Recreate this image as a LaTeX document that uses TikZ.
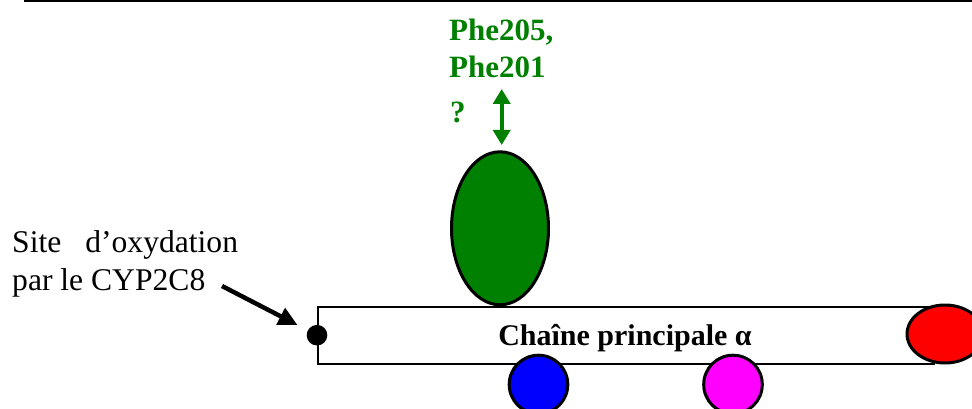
\documentclass[tikz,border=0pt]{standalone}
\usepackage{fontspec}
\setmainfont{Liberation Serif}
\usetikzlibrary{arrows.meta}
\definecolor{dgreen}{RGB}{0,128,0}
\definecolor{mblue}{RGB}{0,0,255}
\definecolor{mmag}{RGB}{255,0,255}
\definecolor{mred}{RGB}{255,0,0}
\begin{document}
\begin{tikzpicture}[x=1pt,y=-1pt,
  lbl/.style={inner sep=0pt,anchor=base west,font=\fontsize{31.6}{38}\selectfont},
  glbl/.style={lbl,text=dgreen,font=\fontsize{31}{38}\selectfont\bfseries},
  blob/.style={draw=black,line width=3pt}]
\useasboundingbox (0,0) rectangle (972,409);
% top rule
\draw[line width=2pt] (24,1) -- (972,1);
% main chain
\node[draw=black,line width=2pt,minimum width=616pt,minimum height=57pt,inner sep=0pt,anchor=north west] (chain) at (317,305.7) {};
\node[inner sep=0pt,anchor=base,font=\fontsize{30}{36}\selectfont\bfseries] (chainlbl) at (625,345) {Chaîne principale α};
% green ellipse
\draw[blob,fill=dgreen] (500,228.3) ellipse [x radius=48.5pt, y radius=76.5pt];
% blue, magenta circles
\draw[blob,fill=mblue] (538.5,384.5) circle [radius=29.3pt];
\draw[blob,fill=mmag] (733,384.5) circle [radius=29.3pt];
% red ellipse
\draw[blob,fill=mred] (945,334) ellipse [x radius=38pt, y radius=29pt];
% oxidation site dot
\fill[black] (chain.west) circle [radius=10.3pt];
% labels
\node[lbl] (site1) at (12,252.3) {Site\hspace{24pt}d’oxydation};
\node[lbl] (site2) at (12,290.5) {par le CYP2C8};
\coordinate (astart) at (222,286);
\coordinate (aend) at (297.5,325);
\draw[line width=4.5pt,-{Triangle[length=19pt,width=18pt]}] (astart) -- (aend);
% green labels
\node[glbl] (phe1) at (449,40.5) {Phe205,};
\node[glbl] (phe2) at (449,77.3) {Phe201};
\node[glbl] (q) at (450,122.7) {?};
\coordinate (gA) at (501.7,89);
\coordinate (gB) at (501.7,145);
\draw[dgreen,line width=4pt,{Triangle[length=15pt,width=17pt]}-{Triangle[length=15pt,width=17pt]}] (gA) -- (gB);
\end{tikzpicture}
\end{document}
